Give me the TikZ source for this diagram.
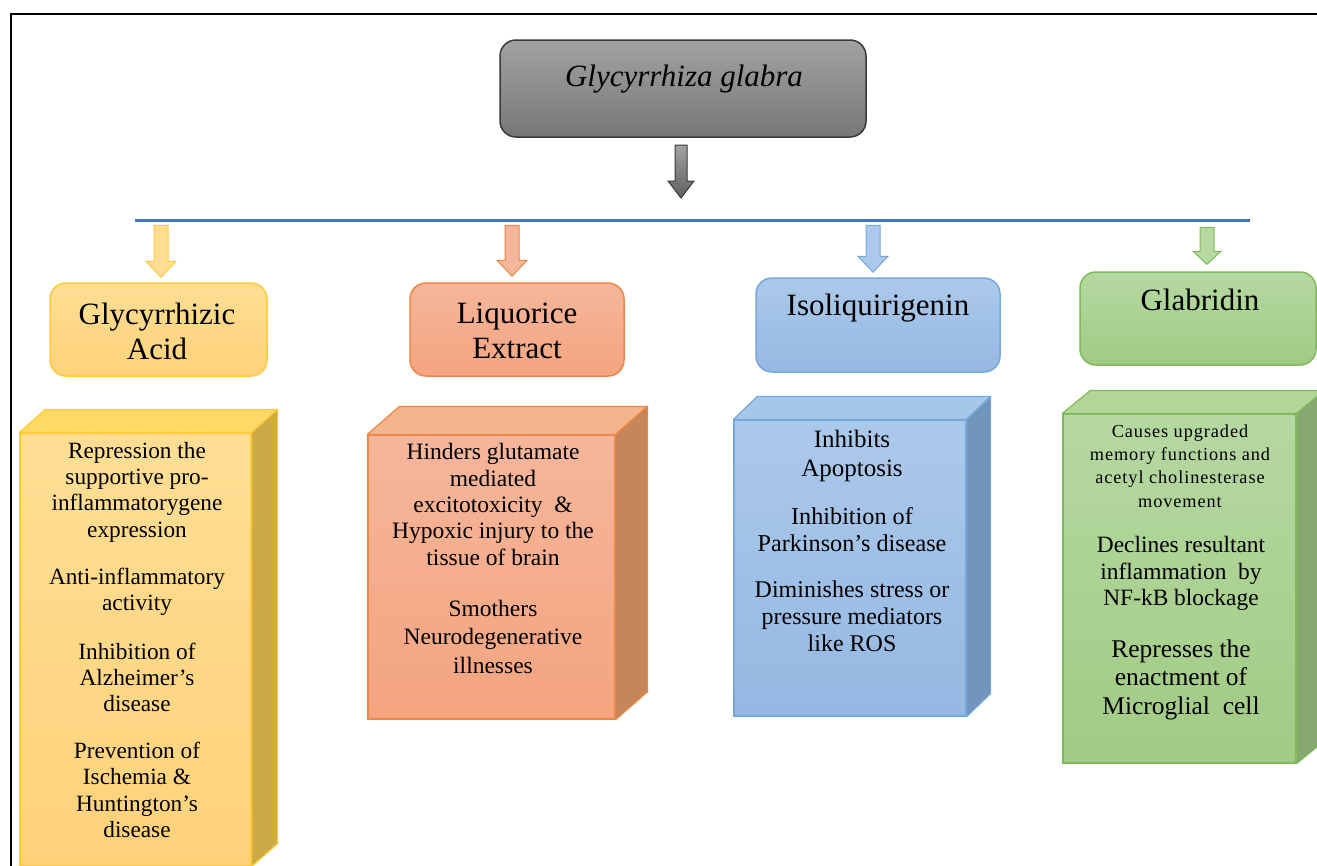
\documentclass[tikz,border=0pt]{standalone}
\usepackage{fontspec}
\IfFontExistsTF{LiberationSerif-Regular.ttf}{%
  \setmainfont{LiberationSerif}[Extension=.ttf, UprightFont=*-Regular, ItalicFont=*-Italic, BoldFont=*-Bold, BoldItalicFont=*-BoldItalic]
  \newfontfamily\spacedfont{LiberationSerif}[Extension=.ttf, UprightFont=*-Regular, LetterSpace=5]
}{%
  \setmainfont{Liberation Serif}
  \newfontfamily\spacedfont[LetterSpace=5]{Liberation Serif}
}
\usetikzlibrary{calc}
\definecolor{gtop}{HTML}{A2A2A2}\definecolor{gbot}{HTML}{777777}\definecolor{gdraw}{HTML}{3A3A3A}
\definecolor{hline}{HTML}{4472C4}
\definecolor{ydraw}{HTML}{FFCB3A}\definecolor{ytop}{HTML}{FFDE94}\definecolor{ybot}{HTML}{FFD27A}\definecolor{yside}{HTML}{CDAA45}\definecolor{ylid}{HTML}{FFD966}
\definecolor{odraw}{HTML}{EE8645}\definecolor{otop}{HTML}{F5B69B}\definecolor{obot}{HTML}{F4A47F}\definecolor{oside}{HTML}{C5865B}\definecolor{olid}{HTML}{F5B58C}
\definecolor{bdraw}{HTML}{75A8DC}\definecolor{btop}{HTML}{ABC9EA}\definecolor{bbot}{HTML}{95B8E2}\definecolor{bside}{HTML}{7296BB}\definecolor{blid}{HTML}{A6C6EA}
\definecolor{grdraw}{HTML}{80BA5C}\definecolor{grtop}{HTML}{B6D8A2}\definecolor{grbot}{HTML}{A0CB84}\definecolor{grside}{HTML}{87A96F}\definecolor{grlid}{HTML}{B1D698}
\tikzset{
  titlebox/.style={rectangle, rounded corners=16pt, line width=1.5pt},
  face/.style={rectangle, line width=1.2pt},
  ttl/.style={align=center, font=\fontsize{31}{35}\selectfont},
  body/.style={align=center, font=\fontsize{23.3}{26.3}\selectfont},
  blockarr/.style={line width=1pt, line join=miter}
}
% #1 style, #2 tip coordinate, #3 length, #4 half shaft, #5 half head, #6 head length
\newcommand\blockarrow[6]{%
  \draw[#1] ($(#2)+(-#4,-#3)$) -- ($(#2)+(#4,-#3)$) -- ($(#2)+(#4,-#6)$) -- ($(#2)+(#5,-#6)$)
    -- (#2) -- ($(#2)+(-#5,-#6)$) -- ($(#2)+(-#4,-#6)$) -- cycle;}
% #1 node, #2 dx, #3 dy, #4 lid colour, #5 side colour, #6 draw colour
\newcommand\cubefaces[6]{%
  \filldraw[fill=#4, draw=#6, line width=1.2pt, line join=round] (#1.north west) -- ++(#2,-#3) -- ($(#1.north east)+(#2,-#3)$) -- (#1.north east) -- cycle;
  \filldraw[fill=#5, draw=#6, line width=1.2pt, line join=round] (#1.north east) -- ++(#2,-#3) -- ($(#1.south east)+(#2,-#3)$) -- (#1.south east) -- cycle;}
\begin{document}
\begin{tikzpicture}[x=1pt,y=-1pt]
\useasboundingbox (0,0) rectangle (1317,865);
\begin{scope}
\clip (0,0) rectangle (1317,865);
\fill[white] (0,0) rectangle (1317,865);
\draw[line width=2pt] (11,870) -- (11,14) -- (1320,14);

% top box
\node[titlebox, draw=gdraw, top color=gtop, bottom color=gbot, minimum width=366pt, minimum height=97pt] (top) at (683,88.5) {};
\node[font=\fontsize{31}{35}\selectfont\itshape] (toptxt) at (684,79) {Glycyrrhiza glabra};

% horizontal line
\coordinate (hl) at (135,220);
\coordinate (hr) at (1250,220);
\draw[hline, line width=3pt] (hl) -- (hr);

% gray arrow
\coordinate (gtip) at (681,198);
\blockarrow{blockarr, top color=gtop, bottom color=gbot!80!black, draw=gdraw}{gtip}{53}{6}{13}{17}

% title boxes
\node[titlebox, draw=ydraw, top color=ytop, bottom color=ybot, minimum width=217pt, minimum height=93pt] (ya) at (158.5,329.5) {};
\node[ttl] (yat) at (157,331) {Glycyrrhizic\\Acid};
\node[titlebox, draw=odraw, top color=otop, bottom color=obot, minimum width=214pt, minimum height=93pt] (oa) at (517,329.5) {};
\node[ttl] (oat) at (517,331) {Liquorice\\Extract};
\node[titlebox, draw=bdraw, top color=btop, bottom color=bbot, minimum width=244pt, minimum height=94pt] (ba) at (878,325) {};
\node[ttl] (bat) at (878,308) {Isoliquirigenin};
\node[titlebox, draw=grdraw, top color=grtop, bottom color=grbot, minimum width=236pt, minimum height=93pt] (ga) at (1198,318.5) {};
\node[ttl] (gat) at (1200,300) {Glabridin};

% small arrows
\coordinate (yt) at ($(ya.north)+(2.5,-5)$);
\coordinate (ot) at ($(oa.north)+(-5,-6)$);
\coordinate (bt) at ($(ba.north)+(-5,-5)$);
\coordinate (grt) at ($(ga.north)+(9,-7)$);
\blockarrow{blockarr, fill=ytop, draw=ydraw}{yt}{52}{7}{15}{16}
\blockarrow{blockarr, fill=otop, draw=odraw}{ot}{51}{7}{15}{16}
\blockarrow{blockarr, fill=btop, draw=bdraw}{bt}{47}{7}{15}{16}
\blockarrow{blockarr, fill=grtop, draw=grdraw}{grt}{37}{7}{14}{13}

% 3D boxes
\node[face, draw=ydraw, top color=ytop, bottom color=ybot, minimum width=231pt, minimum height=433pt] (yf) at (135.5,649.5) {};
\cubefaces{yf}{26}{23}{ylid}{yside}{ydraw}
\node[face, draw=odraw, top color=otop, bottom color=obot, minimum width=247pt, minimum height=284pt] (of) at (491.5,577) {};
\cubefaces{of}{32}{28}{olid}{oside}{odraw}
\node[face, draw=bdraw, top color=btop, bottom color=bbot, minimum width=232pt, minimum height=296pt] (bf) at (850,568) {};
\cubefaces{bf}{24}{23}{blid}{bside}{bdraw}
\node[face, draw=grdraw, top color=grtop, bottom color=grbot, minimum width=233pt, minimum height=349pt] (gf) at (1179.5,588.5) {};
\cubefaces{gf}{28}{23}{grlid}{grside}{grdraw}

% yellow texts
\node[body] (y1) at (137,492) {Repression the\\supportive pro-\\inflammatorygene\\expression};
\node[body] (y2) at (137,591.5) {Anti-inflammatory\\activity};
\node[body] (y3) at (137,677.5) {Inhibition of\\Alzheimer’s\\disease};
\node[body] (y4) at (137,790) {Prevention of\\Ischemia \&\\Huntington’s\\disease};

% orange texts
\node[body, font=\fontsize{23.5}{26.3}\selectfont] (o1) at (493,504.5) {Hinders glutamate\\mediated\\excitotoxicity \ \&\\Hypoxic injury to the\\tissue of brain};
\node[body, font=\fontsize{23.5}{28.5}\selectfont] (o2) at (493,636.5) {Smothers\\Neurodegenerative\\illnesses};

% blue texts
\node[body, font=\fontsize{25}{29}\selectfont] (b1) at (852,455.5) {Inhibits\\Apoptosis};
\node[body, font=\fontsize{24.2}{27}\selectfont] (b2) at (852,529.5) {Inhibition of\\Parkinson’s disease};
\node[body, font=\fontsize{24}{27}\selectfont] (b3) at (852,616) {Diminishes stress or\\pressure mediators\\like ROS};

% green texts
\node[align=center, font=\fontsize{18.3}{23.3}\spacedfont] (g1) at (1180,466) {Causes upgraded\\memory functions and\\acetyl cholinesterase\\movement};
\node[body, font=\fontsize{23.4}{26.5}\selectfont] (g2) at (1181,573.5) {Declines resultant\\inflammation \ by\\NF-kB blockage};
\node[body, font=\fontsize{25.5}{28.5}\selectfont] (g3) at (1181,679.5) {Represses the\\enactment of\\Microglial \ cell};
\end{scope}
\end{tikzpicture}
\end{document}
